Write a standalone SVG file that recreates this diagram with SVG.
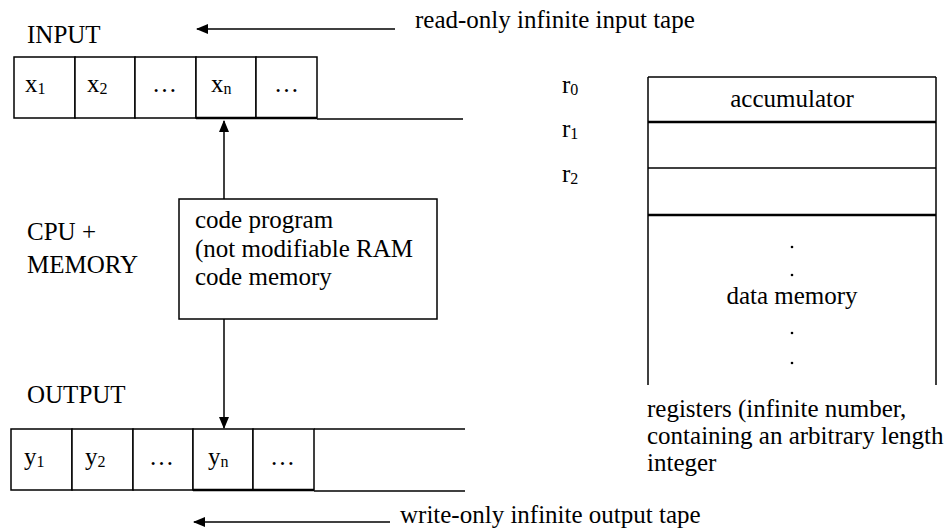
<svg xmlns="http://www.w3.org/2000/svg" width="948" height="531" viewBox="0 0 948 531" font-family="'Liberation Serif', 'Times New Roman', serif">
<style>
text{font-size:25px;fill:#000}
.sub{font-size:16px}
.ln{stroke:#000;stroke-width:1.5;fill:none}
.thick{stroke:#000;stroke-width:2.5;fill:none}
.cell{stroke:#000;stroke-width:1.5;fill:#fff}
</style>
<defs>
<marker id="ah" markerWidth="12" markerHeight="10" refX="11" refY="5" orient="auto" markerUnits="userSpaceOnUse">
<path d="M0,0 L12,5 L0,10 Z" fill="#000"/>
</marker>
</defs>
<g id="input-label"><text x="27" y="43">INPUT</text></g>
<g id="input-tape-caption"><text x="415" y="28">read-only infinite input tape</text></g>
<g id="input-tape">
<rect class="cell" x="14" y="57" width="61" height="61"/>
<rect class="cell" x="75" y="57" width="60" height="61"/>
<rect class="cell" x="135" y="57" width="61" height="61"/>
<rect class="cell" x="196" y="57" width="60" height="61"/>
<rect class="cell" x="256" y="57" width="61" height="61"/>
<line class="ln" x1="317" y1="119" x2="463" y2="119"/>
<line class="thick" x1="196" y1="118" x2="317" y2="118"/>
<text x="25" y="92">x<tspan class="sub" dy="2">1</tspan></text>
<text x="87" y="92">x<tspan class="sub" dy="2">2</tspan></text>
<text x="152" y="92">…</text>
<text x="211" y="92">x<tspan class="sub" dy="2">n</tspan></text>
<text x="274" y="92">…</text>
</g>
<g id="cpu-label"><text x="27" y="240">CPU +</text><text x="27" y="273">MEMORY</text></g>
<g id="code-program">
<rect class="cell" x="179" y="199" width="258" height="120"/>
<text x="195" y="228">code program</text>
<text x="195" y="257">(not modifiable RAM</text>
<text x="195" y="285">code memory</text>
</g>
<g id="output-label"><text x="27" y="403">OUTPUT</text></g>
<g id="output-tape-caption"><text x="400" y="523">write-only infinite output tape</text></g>
<g id="output-tape">
<rect class="cell" x="11" y="429" width="61" height="61"/>
<rect class="cell" x="72" y="429" width="61" height="61"/>
<rect class="cell" x="133" y="429" width="60" height="61"/>
<rect class="cell" x="193" y="429" width="60" height="61"/>
<rect class="cell" x="253" y="429" width="61" height="61"/>
<line class="ln" x1="314" y1="429" x2="465" y2="429"/>
<line class="ln" x1="314" y1="491" x2="465" y2="491"/>
<line class="thick" x1="193" y1="490" x2="314" y2="490"/>
<text x="24" y="465">y<tspan class="sub" dy="2">1</tspan></text>
<text x="85" y="465">y<tspan class="sub" dy="2">2</tspan></text>
<text x="149" y="465">…</text>
<text x="208" y="465">y<tspan class="sub" dy="2">n</tspan></text>
<text x="270" y="465">…</text>
</g>
<g id="registers">
<text x="562" y="93">r<tspan class="sub" dy="2">0</tspan></text>
<text x="562" y="137">r<tspan class="sub" dy="2">1</tspan></text>
<text x="562" y="182">r<tspan class="sub" dy="2">2</tspan></text>
<line class="ln" x1="648" y1="77" x2="936" y2="77"/>
<line class="ln" x1="648" y1="77" x2="648" y2="385"/>
<line class="ln" x1="936" y1="77" x2="936" y2="385"/>
<line class="thick" x1="648" y1="122" x2="936" y2="122"/>
<line class="ln" x1="648" y1="168" x2="936" y2="168"/>
<line class="thick" x1="648" y1="215" x2="936" y2="215"/>
<text x="792" y="107" text-anchor="middle">accumulator</text>
<circle cx="792" cy="247" r="1.3" fill="#000"/>
<circle cx="792" cy="275" r="1.3" fill="#000"/>
<text x="792" y="304" text-anchor="middle">data memory</text>
<circle cx="792" cy="333" r="1.3" fill="#000"/>
<circle cx="792" cy="363" r="1.3" fill="#000"/>
</g>
<g id="registers-caption">
<text x="647" y="417">registers (infinite number,</text>
<text x="647" y="444">containing an arbitrary length</text>
<text x="647" y="471">integer</text>
</g>
<g id="connectors">
<line class="ln" x1="395" y1="29" x2="197" y2="29" marker-end="url(#ah)"/>
<line class="ln" x1="390" y1="522" x2="194" y2="522" marker-end="url(#ah)"/>
<line class="ln" x1="224" y1="199" x2="224" y2="121" marker-end="url(#ah)"/>
<line class="ln" x1="224" y1="319" x2="224" y2="428" marker-end="url(#ah)"/>
</g>
</svg>
